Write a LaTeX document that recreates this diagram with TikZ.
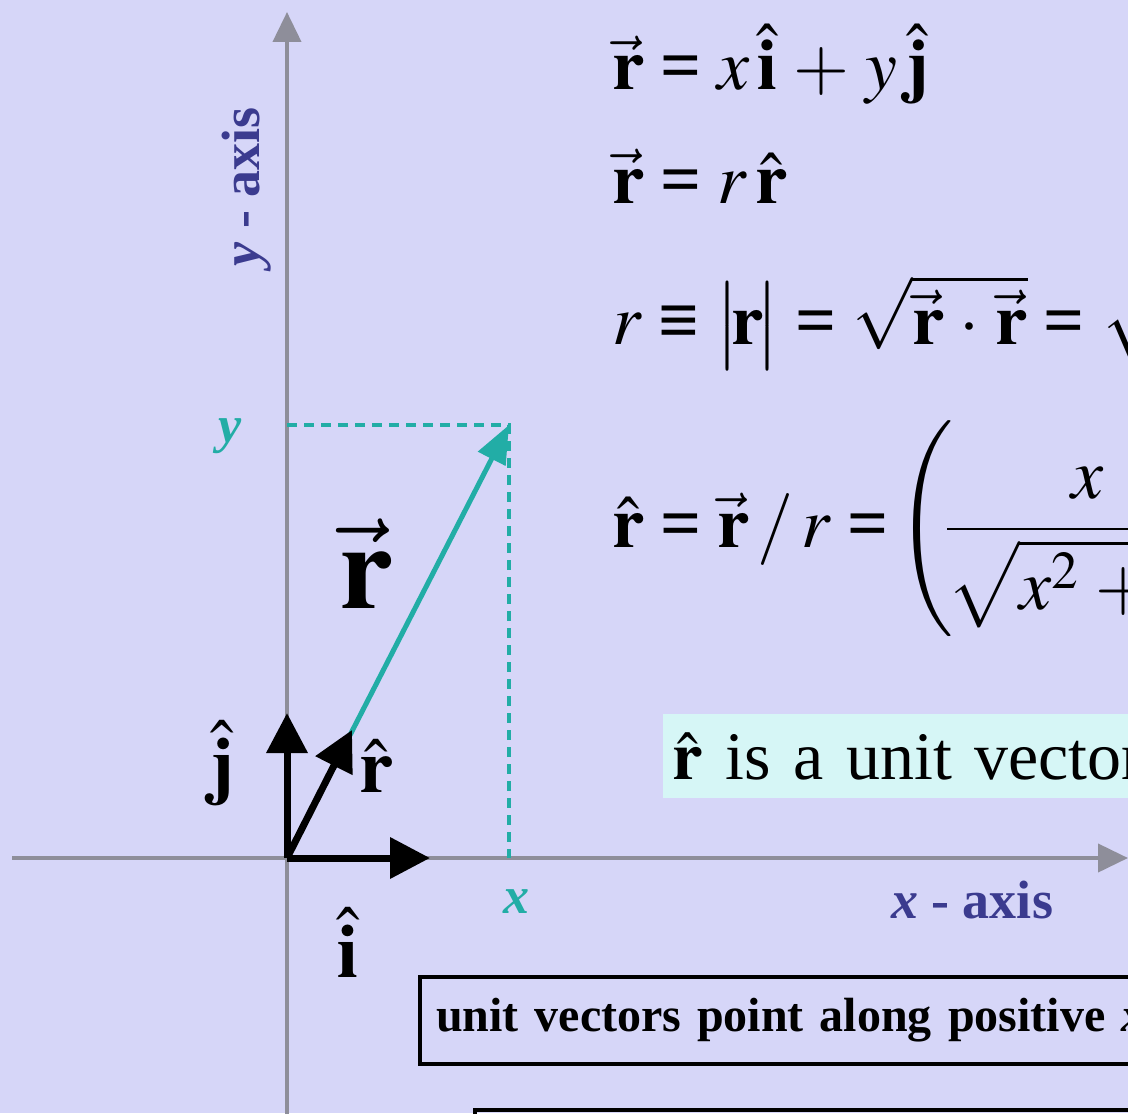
\documentclass[tikz,border=0pt]{standalone}
\usepackage{amsmath}
\usepackage{mathptmx}
\usepackage{fontspec}
\setmainfont{Liberation Serif}
\usepackage{tikz}
\usetikzlibrary{arrows.meta,positioning}
\thickmuskip=4mu
\medmuskip=4mu
\newcommand{\eqsign}{\mathrel{\textbf{=}}}
\newcommand{\idsign}{\mathrel{\textbf{≡}}}
\definecolor{cbg}{HTML}{D6D6F8}
\definecolor{caxis}{HTML}{8E8E9A}
\definecolor{cteal}{HTML}{22ADA6}
\definecolor{cblue}{HTML}{3B3B8F}
\definecolor{ccyan}{HTML}{D6F6F6}
\tikzset{
  axis/.style={draw=caxis,line width=2pt,-{Triangle[length=15pt,width=14pt]}},
  unitv/.style={draw=black,line width=3.5pt,-{Triangle[length=20pt,width=20pt]}},
  vecr/.style={draw=cteal,line width=2.5pt,-{Triangle[length=19pt,width=15pt]}},
  proj/.style={draw=cteal,line width=2pt,dash pattern=on 5pt off 3.5pt},
  eqn/.style={anchor=base west,inner sep=0pt,font=\fontsize{36}{44}\selectfont},
  vlbl/.style={anchor=base,inner sep=0pt,font=\fontsize{38}{44}\selectfont},
  axlbl/.style={inner sep=0pt,text=cblue,font=\fontsize{27}{32}\selectfont\bfseries},
  ptlbl/.style={inner sep=0pt,text=cteal,font=\fontsize{26}{30}\selectfont\bfseries\itshape},
  framed/.style={draw=black,line width=2pt,anchor=north west,align=left},
}

\begin{document}
\begin{tikzpicture}[x=0.5pt,y=-0.5pt]
\useasboundingbox (0,0) rectangle (1128,1113);
\clip (0,0) rectangle (1128,1113);
\fill[cbg] (0,0) rectangle (1128,1113);

% ================= axes =================
\coordinate (O) at (287,858);
\coordinate (ybot) at (287,1125);
\coordinate (ytop) at (287,12);
\coordinate (xlft) at (12,858);
\coordinate (xrgt) at (1128,858);
\draw[axis] (ybot) -- (ytop);
\draw[axis] (xlft) -- (xrgt);
\node[axlbl,rotate=90] (ylab) at (247,187) {\textit{y} - axis};
\node[axlbl] (xlab) at (972,900) {\textit{x} - axis};

% ================= position vector and its projections =================
\coordinate (P) at (509,425);
\coordinate (Py) at (287,425);
\coordinate (Px) at (509,858);
\draw[proj] (Py) -- (P) -- (Px);
\draw[vecr] (O) -- (P);
\node[ptlbl] (ylbl) at (230,436) {y};
\node[ptlbl] (xlbl) at (516,902) {x};
\node[vlbl,font=\fontsize{60}{66}\selectfont] (lvr) at (366,608) {$\vec{\mathbf r}$};

% ================= unit vectors =================
\coordinate (ti) at (430,858);
\coordinate (tj) at (287,713);
\coordinate (tr) at (352,730);
\draw[unitv] (O) -- (ti);
\draw[unitv] (O) -- (tj);
\draw[unitv] (O) -- (tr);
\node[vlbl] (lj) at (222,790) {$\hat{\mathbf j}$};
\node[vlbl] (lr) at (376,792) {$\hat{\mathbf r}$};
\node[vlbl] (li) at (348,977) {$\hat{\mathbf i}$};

% ================= equations =================
\node[eqn] (eq1) at (612,90) {$\vec{\mathbf r} \eqsign x\,\hat{\mathbf i} + y\,\hat{\mathbf j}$};
\node[eqn] (eq2) at (612,203) {$\vec{\mathbf r} \eqsign r\,\hat{\mathbf r}$};
\node[eqn] (eq3) at (612,344) {$r \idsign \bigl|\!\mathbf r\!\bigr| \eqsign \sqrt{\vec{\mathbf r}\cdot\vec{\mathbf r}} \eqsign \sqrt{x^2+y^2}$};
\node[eqn] (eq4) at (612,547) {$\hat{\mathbf r} \eqsign \vec{\mathbf r}\,/\,r \eqsign\!\left(\!\dfrac{x}{\sqrt{x^2+y^2}}, \dfrac{y}{\sqrt{x^2+y^2}}\right)$};
\node[anchor=north west,fill=ccyan,inner xsep=4.5pt,minimum height=42pt,text width=320pt,align=left,
      font=\fontsize{34}{38}\selectfont] (note) at (663,714) {$\hat{\mathbf r}$ is a unit vector};

% ================= boxed remarks =================
\node[framed,inner xsep=8pt,minimum height=43.5pt,text width=380pt,
      font=\fontsize{24}{30}\selectfont\bfseries] (box1) at (418,975) {unit vectors point along positive \textit{x}};
\node[framed,minimum width=380pt,minimum height=60pt] (box2) at (473,1108) {};
\end{tikzpicture}
\end{document}
